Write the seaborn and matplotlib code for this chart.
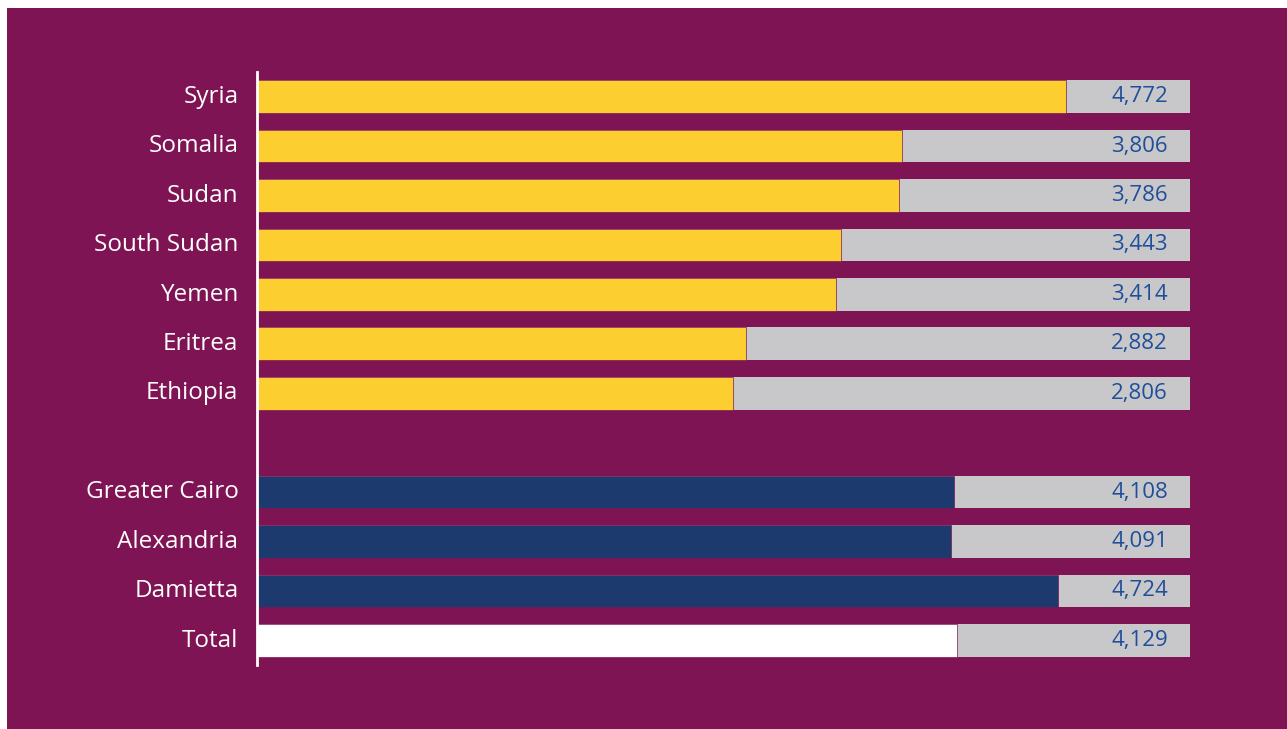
import matplotlib
matplotlib.use("Agg")
import matplotlib.pyplot as plt
import matplotlib.transforms as mtransforms
import seaborn as sns
import pandas as pd

# Data
countries = ["Syria", "Somalia", "Sudan", "South Sudan", "Yemen", "Eritrea", "Ethiopia"]
country_values = [4772, 3806, 3786, 3443, 3414, 2882, 2806]
regions = ["Greater Cairo", "Alexandria", "Damietta"]
region_values = [4108, 4091, 4724]
total_label = ["Total"]
total_value = [4129]
scale_max = 5500

PURPLE = "#7F1454"
YELLOW = "#FDCE30"
NAVY = "#1D3A6E"
GRAY = "#C8C8CA"
WHITE = "#FFFFFF"
VALUE_BLUE = "#1F4E9A"

spacer = " "
order = countries + [spacer] + regions + total_label
labels = countries + regions + total_label
values = country_values + region_values + total_value
groups = ["country"] * len(countries) + ["region"] * len(regions) + ["total"]
df = pd.DataFrame({"label": labels, "value": values, "group": groups,
                   "full": [scale_max] * len(labels)})
palette = {"country": YELLOW, "region": NAVY, "total": WHITE}

sns.set_theme(style="white")
plt.rcParams["font.family"] = ["Open Sans", "DejaVu Sans"]

fig = plt.figure(figsize=(12.87, 7.29), dpi=100)
fig.patch.set_facecolor("white")
fig.add_artist(plt.Rectangle((7 / 1287, 0), 1 - 7 / 1287, 1 - 8 / 729,
                             transform=fig.transFigure, facecolor=PURPLE,
                             edgecolor="none", zorder=0))

ax = fig.add_axes([256.5 / 1287, 1 - 665 / 729, (1190 - 256.5) / 1287, (665 - 72) / 729])
ax.set_facecolor("none")

sns.barplot(data=df, y="label", x="full", order=order, color=GRAY,
            width=0.66, orient="h", ax=ax, saturation=1, errorbar=None,
            linewidth=0)
sns.barplot(data=df, y="label", x="value", order=order, hue="group",
            palette=palette, width=0.66, orient="h", ax=ax, saturation=1,
            errorbar=None, legend=False, dodge=False,
            edgecolor=PURPLE, linewidth=0.5)

ax.set_xlim(0, scale_max)
ax.set_ylim(len(order) - 0.5, -0.5)
ax.set_xlabel("")
ax.set_ylabel("")
ax.set_xticks([])

for s in ["top", "right", "bottom"]:
    ax.spines[s].set_visible(False)
ax.spines["left"].set_color("white")
ax.spines["left"].set_linewidth(2)
ax.spines["left"].set_zorder(5)

ax.tick_params(axis="y", length=0, pad=13, labelsize=17.5, labelcolor="white")
shift = mtransforms.ScaledTranslation(0, 2 / 72, fig.dpi_scale_trans)
for t in ax.get_yticklabels():
    t.set_transform(t.get_transform() + shift)
    t.set_fontweight("medium")

offset = mtransforms.offset_copy(ax.transData, fig=fig, x=-22, y=0, units="dots")
for lab, val in zip(labels, values):
    ax.text(scale_max, order.index(lab), f"{val:,}", transform=offset,
            ha="right", va="center", fontsize=16, color=VALUE_BLUE,
            fontweight="medium")

fig.savefig("out.png", dpi=100)
